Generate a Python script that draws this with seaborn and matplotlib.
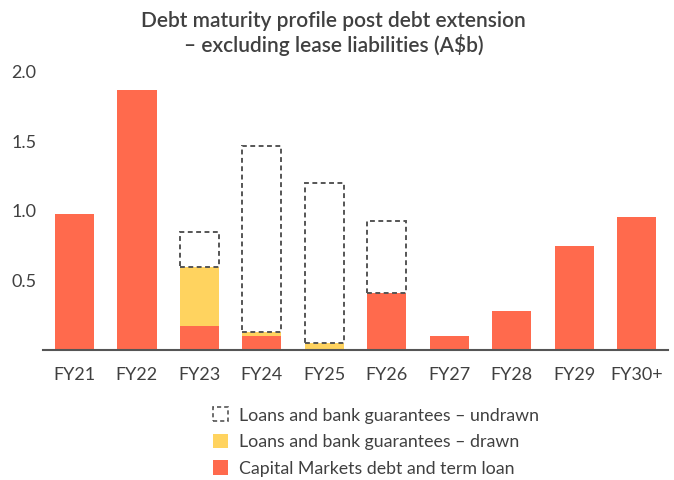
import numpy as np
import pandas as pd
import seaborn as sns
import matplotlib.pyplot as plt
from matplotlib.patches import Patch

# Data (A$b)
years = ["FY21", "FY22", "FY23", "FY24", "FY25", "FY26", "FY27", "FY28", "FY29", "FY30+"]
capital_markets = [0.98, 1.87, 0.17, 0.10, 0.00, 0.41, 0.10, 0.28, 0.75, 0.96]
drawn = [0.00, 0.00, 0.43, 0.03, 0.05, 0.00, 0.00, 0.00, 0.00, 0.00]
undrawn = [0.00, 0.00, 0.25, 1.34, 1.15, 0.52, 0.00, 0.00, 0.00, 0.00]
yticks = [0.5, 1.0, 1.5, 2.0]

red = "#FF6A4D"
yellow = "#FFD35F"
grey = "#404040"

sns.set_theme(style="white")
plt.rcParams["font.family"] = ["Lato", "DejaVu Sans"]

df = pd.DataFrame({"year": years, "cm": capital_markets, "drawn": drawn, "undrawn": undrawn})
df["base_drawn"] = df["cm"]
df["base_undrawn"] = df["cm"] + df["drawn"]

fig = plt.figure(figsize=(6.74, 4.8), dpi=100)
ax = fig.add_axes([0.064, 0.271, 0.927, 0.579])

# Capital markets debt
sns.barplot(data=df, x="year", y="cm", order=years, color=red, saturation=1,
            width=0.63, linewidth=0, ax=ax)

# drawn loans on top
d = df[df["drawn"] > 0]
sns.barplot(data=d, x="year", y="drawn", order=years, color=yellow, saturation=1,
            width=0.63, linewidth=0, bottom=d["base_drawn"].values, ax=ax)

# undrawn as dashed outline
u = df[df["undrawn"] > 0]
sns.barplot(data=u, x="year", y="undrawn", order=years, color="#555555", saturation=1,
            width=0.63, fill=False, linewidth=1.4,
            linestyle=(0, (2.5, 1.8)), bottom=u["base_undrawn"].values, ax=ax)

ax.set_xlim(-0.5, 9.5)
ax.set_ylim(0, 2.0)
ax.set_yticks(yticks)
ax.set_yticklabels([f"{v:.1f}" for v in yticks])
ax.set_xlabel("")
ax.set_ylabel("")
ax.tick_params(axis="both", length=0, labelsize=13, colors=grey)
ax.tick_params(axis="x", pad=12)
ax.tick_params(axis="y", pad=5)
for s in ["top", "right", "left"]:
    ax.spines[s].set_visible(False)
ax.spines["bottom"].set_color("#555555")
ax.spines["bottom"].set_linewidth(1.5)
ax.grid(False)

fig.text(0.495, 0.93, "Debt maturity profile post debt extension\n\u2013 excluding lease liabilities (A$b)",
         ha="center", va="center", fontsize=15, color=grey, fontweight="semibold", linespacing=1.15)

handles = [
    Patch(facecolor="none", edgecolor="#555555", linestyle=(0, (2.5, 1.8)), linewidth=1.2),
    Patch(facecolor=yellow, edgecolor="none"),
    Patch(facecolor=red, edgecolor="none"),
]
labels = ["Loans and bank guarantees \u2013 undrawn",
          "Loans and bank guarantees \u2013 drawn",
          "Capital Markets debt and term loan"]
fig.legend(handles, labels, loc="upper left", bbox_to_anchor=(0.303, 0.17), frameon=False,
           fontsize=12.8, labelcolor=grey, handlelength=0.85, handleheight=0.85,
           handletextpad=0.6, labelspacing=0.58, borderpad=0)

fig.savefig("out.png", dpi=100)
